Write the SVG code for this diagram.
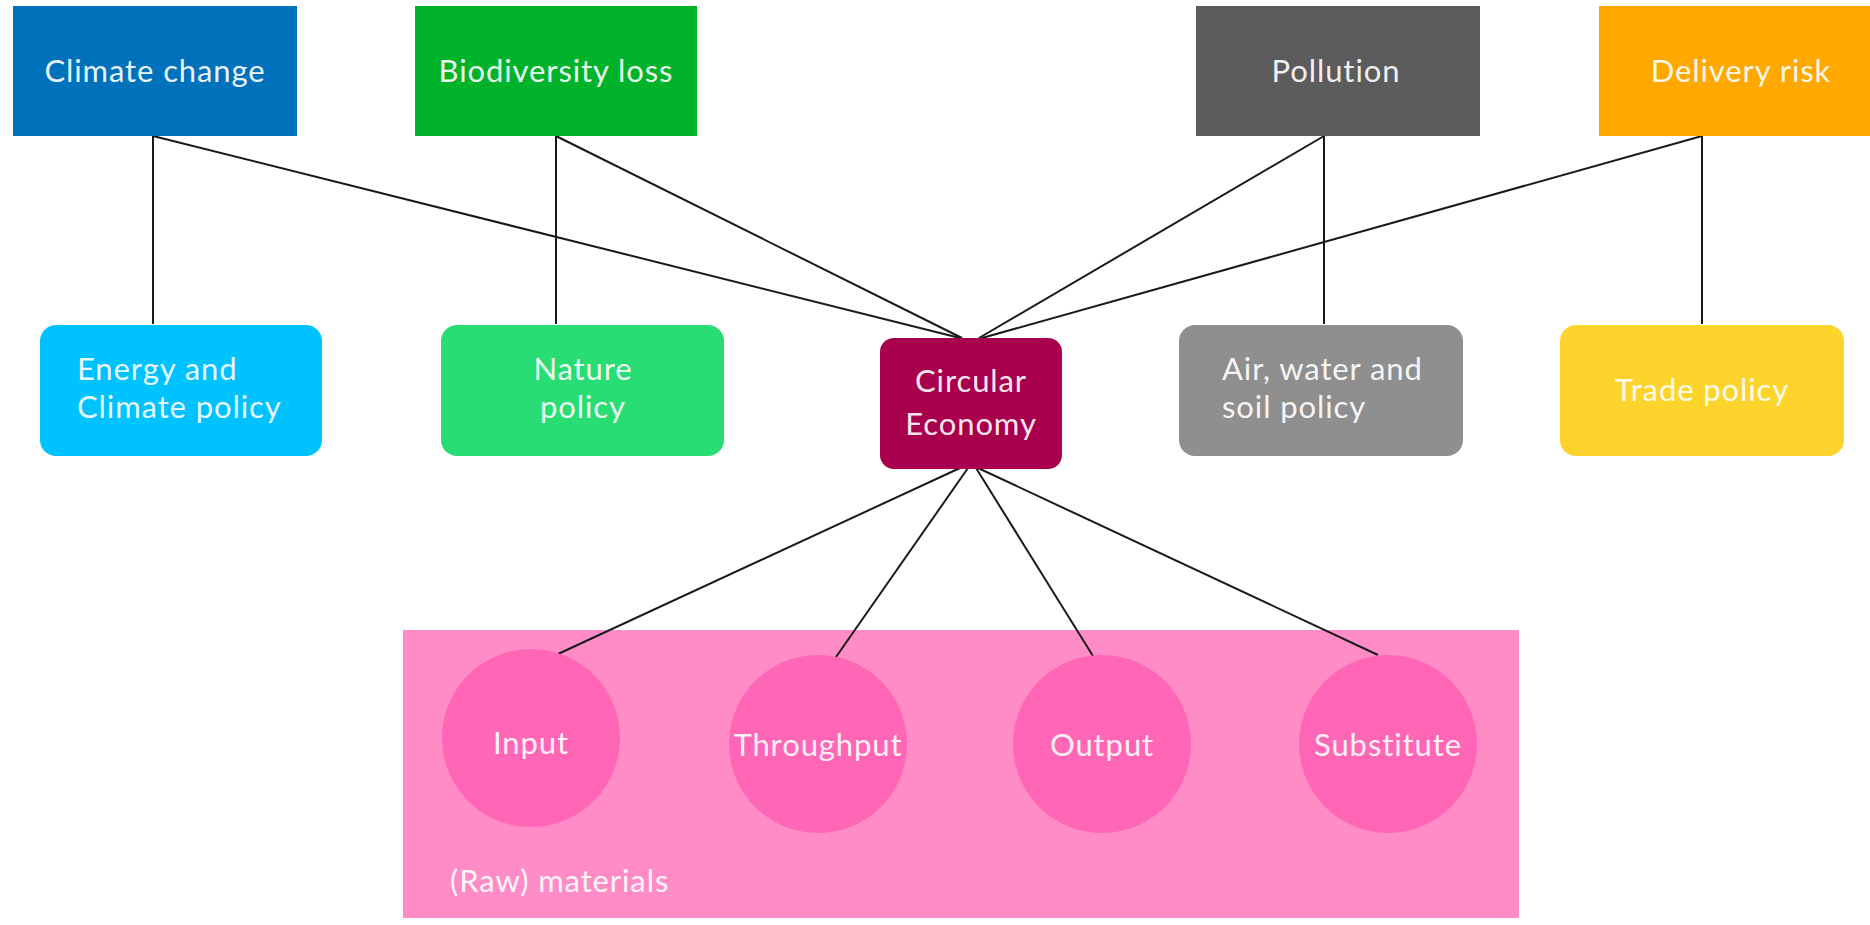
<svg xmlns="http://www.w3.org/2000/svg" width="1870" height="925" viewBox="0 0 1870 925">
<style>
.t{font-family:Lato,"Open Sans","Liberation Sans",sans-serif;font-size:31px;letter-spacing:0.9px;font-variant-ligatures:none;fill:#ffffff;fill-opacity:0.93}
.c{text-anchor:middle}
.ln{stroke:#1a1a1a;stroke-width:2;fill:none}
</style>
<rect width="1870" height="925" fill="#ffffff"/>
<g id="connectors">
<line class="ln" x1="153" y1="136" x2="153" y2="324"/>
<line class="ln" x1="153" y1="136" x2="960" y2="338"/>
<line class="ln" x1="556" y1="136" x2="556" y2="324"/>
<line class="ln" x1="556" y1="136" x2="962" y2="338"/>
<line class="ln" x1="1324" y1="136" x2="1324" y2="324"/>
<line class="ln" x1="1324" y1="136" x2="979" y2="338"/>
<line class="ln" x1="1702" y1="136" x2="1702" y2="324"/>
<line class="ln" x1="1702" y1="136" x2="982" y2="338"/>
</g>
<g id="raw-materials">
<rect x="403" y="630" width="1116" height="288" fill="#ff8cc6"/>
<text class="t" x="450" y="892">(Raw) materials</text>
</g>
<g id="connectors-bottom">
<line class="ln" x1="960" y1="468" x2="558" y2="654"/>
<line class="ln" x1="968" y1="468" x2="836" y2="657"/>
<line class="ln" x1="976" y1="468" x2="1093" y2="656"/>
<line class="ln" x1="978" y1="468" x2="1378" y2="655"/>
</g>
<g id="climate-change"><rect x="13" y="6" width="284" height="130" fill="#0071bb"/><text class="t c" x="155" y="82">Climate change</text></g>
<g id="biodiversity-loss"><rect x="415" y="6" width="282" height="130" fill="#00b32a"/><text class="t c" x="556" y="82">Biodiversity loss</text></g>
<g id="pollution"><rect x="1196" y="6" width="284" height="130" fill="#5c5c5c"/><text class="t c" x="1336" y="82">Pollution</text></g>
<g id="delivery-risk"><rect x="1599" y="6" width="271" height="130" fill="#ffa800"/><text class="t c" x="1741" y="82">Delivery risk</text></g>
<g id="energy-climate-policy"><rect x="40" y="325" width="282" height="131" rx="16" fill="#00c2ff"/><text class="t" x="77" y="380">Energy and</text><text class="t" x="77" y="418">Climate policy</text></g>
<g id="nature-policy"><rect x="441" y="325" width="283" height="131" rx="16" fill="#29dd75"/><text class="t c" x="583" y="380">Nature</text><text class="t c" x="583" y="418">policy</text></g>
<g id="circular-economy"><rect x="880" y="338" width="182" height="131" rx="14" fill="#a8004c"/><text class="t c" x="971" y="392">Circular</text><text class="t c" x="971" y="435">Economy</text></g>
<g id="air-water-soil-policy"><rect x="1179" y="325" width="284" height="131" rx="16" fill="#8f8f8f"/><text class="t" x="1222" y="380">Air, water and</text><text class="t" x="1222" y="418">soil policy</text></g>
<g id="trade-policy"><rect x="1560" y="325" width="284" height="131" rx="16" fill="#fdd42b"/><text class="t c" x="1702" y="401">Trade policy</text></g>
<g id="input"><circle cx="531" cy="738" r="89" fill="#ff66b5"/><text class="t c" x="531" y="754">Input</text></g>
<g id="throughput"><circle cx="818" cy="744" r="89" fill="#ff66b5"/><text class="t c" x="818" y="756">Throughput</text></g>
<g id="output"><circle cx="1102" cy="744" r="89" fill="#ff66b5"/><text class="t c" x="1102" y="756">Output</text></g>
<g id="substitute"><circle cx="1388" cy="744" r="89" fill="#ff66b5"/><text class="t c" x="1388" y="756">Substitute</text></g>
</svg>
